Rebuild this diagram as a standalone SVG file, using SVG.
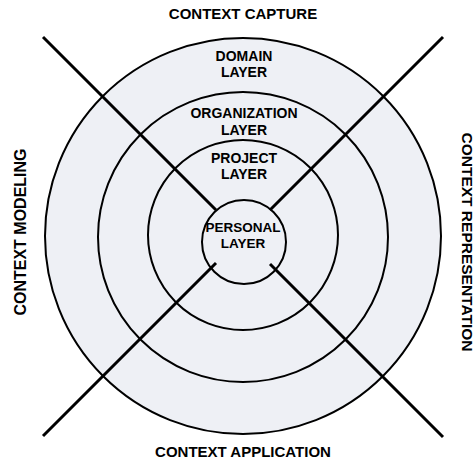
<svg xmlns="http://www.w3.org/2000/svg" width="475" height="470" viewBox="0 0 475 470">
  <style>
    .ring { fill: #eef0f5; stroke: #000; stroke-width: 2; }
    .axis { stroke: #000; stroke-width: 3; fill: none; stroke-linecap: butt; }
    text { font-family: "Liberation Sans", Arial, sans-serif; font-weight: bold; font-size: 14px; fill: #000; text-anchor: middle; }
    .side { font-size: 15px; }
  </style>
  <rect width="475" height="470" fill="#fff"/>

  <!-- concentric layers -->
  <g id="domain-layer">
    <circle class="ring" cx="243" cy="236" r="198"/>
    <text x="244" y="61">DOMAIN</text>
    <text x="244" y="77">LAYER</text>
  </g>
  <g id="organization-layer">
    <circle class="ring" cx="243" cy="237" r="145"/>
    <text x="244" y="118">ORGANIZATION</text>
    <text x="244" y="135">LAYER</text>
  </g>
  <g id="project-layer">
    <circle class="ring" cx="243" cy="235" r="95"/>
    <text x="244" y="163">PROJECT</text>
    <text x="244" y="179">LAYER</text>
  </g>

  <!-- diagonal axes -->
  <g id="connectors">
    <line class="axis" x1="43" y1="37" x2="216" y2="210"/>
    <line class="axis" x1="443" y1="37" x2="270" y2="210"/>
    <line class="axis" x1="43" y1="436" x2="216" y2="263"/>
    <line class="axis" x1="443" y1="437" x2="270" y2="264"/>
  </g>

  <g id="personal-layer">
    <circle class="ring" cx="244" cy="242" r="42" fill-opacity="0"/>
    <text x="243" y="232" style="font-size:13.5px">PERSONAL</text>
    <text x="243" y="248" style="font-size:13.5px">LAYER</text>
  </g>

  <!-- quadrant labels -->
  <g id="context-capture"><text class="side" x="243" y="19">CONTEXT CAPTURE</text></g>
  <g id="context-application"><text class="side" x="243" y="457">CONTEXT APPLICATION</text></g>
  <g id="context-modeling"><text class="side" style="font-size:16px" transform="translate(26 232) rotate(-90)">CONTEXT MODELING</text></g>
  <g id="context-representation"><text class="side" style="font-size:15.5px" transform="translate(462 242) rotate(90)">CONTEXT REPRESENTATION</text></g>
</svg>
